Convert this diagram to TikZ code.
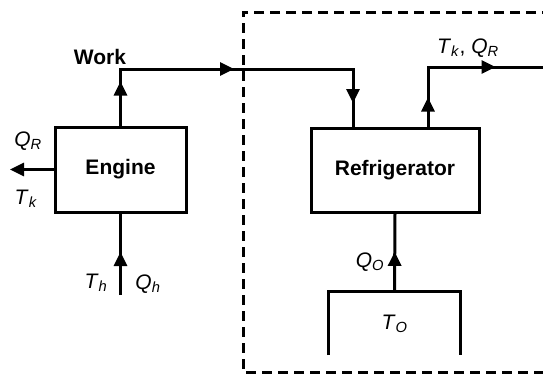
\documentclass[tikz,border=0pt]{standalone}
\usepackage{fontspec}
\setmainfont{Liberation Sans}
\usetikzlibrary{arrows.meta,positioning,calc,decorations.markings}
\newcommand{\tsub}[2]{\textit{#1}\textsubscript{\textit{#2}}}
\tikzset{
  block/.style={rectangle,draw=black,line width=3pt,fill=white,inner sep=0pt,font=\fontsize{21}{25}\selectfont\bfseries},
  flow/.style={line width=3pt,line join=miter,postaction={decorate}},
  flowtip/.tip={Triangle[length=14pt,width=13pt]},
  lbl/.style={inner sep=0pt,font=\fontsize{21}{25}\selectfont},
  zone/.style={line width=3pt,dash pattern=on 10pt off 6pt}
}

\begin{document}
\begin{tikzpicture}[x=1pt,y=-1pt]
    \useasboundingbox (0,0) rectangle (543,375);
    % dashed system boundary
    \draw[zone] (600,12) -| (243,372) -- (600,372);
    \node[block,minimum width=131pt,minimum height=85pt] (eng) at (120.5,169.5) {Engine};
    \node[block,minimum width=168pt,minimum height=84pt] (ref) at (395,170) {Refrigerator};
    \node[lbl,minimum width=131pt,minimum height=63pt] (res) at (394.5,323.5) {\tsub{T}{O}};
    \draw[line width=3pt,line join=miter] (res.south west) |- (res.north east) -- (res.south east);
    \coordinate (wk) at (122,69);
    \coordinate (rin) at ($(ref.north)+(-42,0)$);
    \coordinate (rout) at ($(ref.north)+(33,0)$);
    \coordinate (hot) at (120.5,295);
    \coordinate (exit) at (560,67);
    \coordinate (lost) at (10,169.5);
    % work from engine to refrigerator
    \draw[flow,decoration={markings,
        mark=at position 44pt with {\arrow{flowtip}},
        mark=at position 170pt with {\arrow{flowtip}},
        mark=at position 323pt with {\arrow{flowtip}}}]
      (eng.north) -- (eng.north |- wk) -- (rin |- wk) -- (rin);
    \draw[flow,decoration={markings,
        mark=at position 29pt with {\arrow{flowtip}},
        mark=at position 127pt with {\arrow{flowtip}}}]
      (rout) -- (rout |- exit) -- (exit);
    \draw[flow,decoration={markings,mark=at position 40pt with {\arrow{flowtip}}}] (res.north) -- (ref.south);
    \draw[flow,decoration={markings,mark=at position 43pt with {\arrow{flowtip}}}] (hot) -- (eng.south);
    \draw[line width=3pt,-flowtip] (eng.west) -- (lost);
    % labels
    \node[lbl,font=\fontsize{21}{25}\selectfont\bfseries] (work) at (100,57) {Work};
    \node[lbl] (tkqr) at (468,48) {\tsub{T}{k}, \tsub{Q}{R}};
    \node[lbl] (qr) at (28,141) {\tsub{Q}{R}};
    \node[lbl] (tk) at (26,199) {\tsub{T}{k}};
    \node[lbl] (qo) at (370,262) {\tsub{Q}{O}};
    \node[lbl] (th) at (96,283) {\tsub{T}{h}};
    \node[lbl] (qh) at (148,284) {\tsub{Q}{h}};
\end{tikzpicture}
\end{document}
